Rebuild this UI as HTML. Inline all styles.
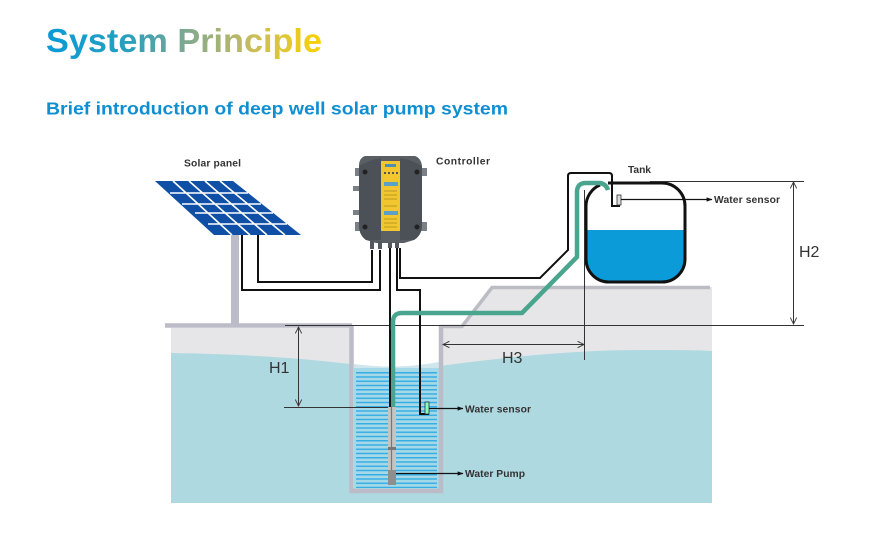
<!DOCTYPE html>
<html><head><meta charset="utf-8"><style>
html,body{margin:0;padding:0;background:#fff;width:873px;height:555px;overflow:hidden}
svg{display:block;filter:blur(.35px)}
text{font-family:"Liberation Sans","DejaVu Sans",sans-serif;font-weight:bold}
</style></head><body>
<svg width="873" height="555" viewBox="0 0 873 555" xmlns="http://www.w3.org/2000/svg">
<defs>
<linearGradient id="tg" gradientUnits="userSpaceOnUse" x1="46" y1="0" x2="322" y2="0">
<stop offset="0" stop-color="#0a9ad8"/><stop offset=".3" stop-color="#27a0bd"/><stop offset=".5" stop-color="#7da891"/><stop offset=".75" stop-color="#c9bd5c"/><stop offset="1" stop-color="#fad200"/>
</linearGradient>
<pattern id="wl" width="8" height="4.25" patternUnits="userSpaceOnUse" y="372">
<rect width="8" height="4.25" fill="#a6d9e8"/><rect width="8" height="1.5" fill="#36aee3"/>
</pattern>
<marker id="o" viewBox="0 0 10 10" refX="9" refY="5" markerWidth="8" markerHeight="8" orient="auto-start-reverse"><path d="M1 1L9 5L1 9" fill="none" stroke="#333" stroke-width="1.1"/></marker>
<marker id="s" viewBox="0 0 10 10" refX="9" refY="5" markerWidth="5" markerHeight="5" orient="auto"><path d="M0 1.5L10 5L0 8.5Z" fill="#111"/></marker>
</defs>
<text x="46" y="52" font-size="33" fill="url(#tg)" textLength="276" lengthAdjust="spacingAndGlyphs">System Principle</text>
<text x="46" y="114.500" font-size="17.500" fill="#0f8fd2" textLength="462" lengthAdjust="spacingAndGlyphs">Brief introduction of deep well solar pump system</text>

<!-- ground -->
<path d="M171 328H352V503H171Z" fill="#e6e6e8"/>
<path d="M440 327H463L492 287H712V503H440Z" fill="#e6e6e8"/>
<path d="M171 353C240 354 300 358 350 364V503H171Z" fill="#aed9e1"/>
<path d="M440 366C500 358 570 350 640 350C670 350 695 350 712 351V503H440Z" fill="#aed9e1"/>
<rect x="171" y="490" width="541" height="13" fill="#aed9e1"/>
<rect x="354" y="328" width="85" height="37" fill="#fff"/>
<path d="M354 364Q396 370 439 362V372H354Z" fill="#cfe7ec"/>
<rect x="354" y="368" width="85" height="121" fill="#a6d9e8"/>
<rect x="356" y="372" width="81" height="116" fill="url(#wl)"/>
<path d="M165 325.500H352M351.500 325V491H441V325" fill="none" stroke="#bcbcc8" stroke-width="4.500"/>
<path d="M441 326.500H462L492 287.500H710" fill="none" stroke="#bcbcc4" stroke-width="3.500"/>
<rect x="231" y="235" width="8" height="89" fill="#bcbcc8"/>

<!-- solar panel -->
<path d="M155 181H233L301 235H214Z" fill="#0f4fa6"/>
<path d="M170 193H248M182 204H261M195 213H273M208 224H287M173 181L232 235M189 181L250 235M205 181L267 235M220 181L285 235" stroke="#fff" stroke-width="1.600" fill="none"/>

<!-- tank -->
<path d="M586 230H686V260A23 23 0 0 1 663 283H609A23 23 0 0 1 586 260Z" fill="#0b9bd9"/>
<path d="M608 183H662A23 23 0 0 1 685 206V259A23 23 0 0 1 662 282H609A23 23 0 0 1 586 259V206A23 23 0 0 1 600 185" fill="none" stroke="#111" stroke-width="3"/>

<!-- thin lines -->
<g stroke="#333" stroke-width="1" fill="none">
<path d="M285 325.500H804M650 181.500H804M284 407.500H390"/>
<path d="M584.500 190V360"/>
<path d="M298.500 327V406" marker-start="url(#o)" marker-end="url(#o)"/>
<path d="M793.500 182V324" marker-start="url(#o)" marker-end="url(#o)"/>
<path d="M443 344.500H584" marker-start="url(#o)" marker-end="url(#o)"/>
</g>

<!-- wires -->
<g fill="none" stroke="#111" stroke-width="2">
<path d="M258 235V282H372V250"/>
<path d="M242 235V290H380V250"/>
<path d="M390 248V408"/>
<path d="M397 248V290H420V414H429"/>
<path d="M400 248V278H540L568 250V176Q568 173 571 173H609Q612 173 612 176V206H620"/>
</g>
<!-- pipe -->
<path d="M393 407V322Q393 313 402 313H522L577 257V192Q577 183 586 183H600Q606 184 608 190" fill="none" stroke="#4aa58e" stroke-width="4.500"/>
<path d="M390 330V407" stroke="#111" stroke-width="2"/>

<!-- sensors -->
<rect x="617" y="195" width="4" height="10" fill="#ddd" stroke="#333" stroke-width=".8"/>
<rect x="425" y="402" width="4" height="12" fill="#8fb" stroke="#234" stroke-width=".8"/>
<path d="M621 199.500H712" stroke="#111" stroke-width="1.200" marker-end="url(#s)"/>
<path d="M429 408.500H463" stroke="#111" stroke-width="1.200" marker-end="url(#s)"/>
<path d="M396 473.500H463" stroke="#111" stroke-width="1.200" marker-end="url(#s)"/>

<!-- pump -->
<rect x="388" y="407" width="8" height="78" fill="#c4c4c2"/>
<path d="M391.500 407V485" stroke="#777" stroke-width="1.200"/>
<rect x="388" y="447" width="8" height="3" fill="#777"/>
<rect x="388" y="470" width="8" height="15" fill="#8e8e8c"/>

<!-- controller -->
<g>
<path d="M355 168h6v8h-6zM355 222h6v9h-6zM421 168h6v8h-6zM421 222h6v9h-6zM353 186h7v5h-7zM353 210h7v5h-7z" fill="#7b8087"/>
<path d="M365 156H415Q421 158 422 166V225Q422 235 414 240L404 243H376L366 240Q359 235 359 225V166Q359 158 365 156Z" fill="#5a5f66"/>
<path d="M359 166Q370 160 381 158V240L366 240Q359 235 359 225ZM400 158Q412 160 422 166V225Q422 235 414 240H400Z" fill="#4c5158"/>
<rect x="381" y="161" width="19" height="70" fill="#f1c62f"/>
<rect x="385" y="164" width="11" height="3" fill="#4f8fb0"/>
<path d="M384 172h2v2h-2zM388 172h2v2h-2zM392 172h2v2h-2zM396 172h2v2h-2z" fill="#555"/>
<rect x="384" y="182" width="14" height="4" fill="#5aa0c8"/>
<rect x="384" y="211" width="14" height="4" fill="#5aa0c8"/>
<path d="M384 191H397M384 195H397M384 199H397M384 206H397M384 219H397M384 223H397M384 227H397" stroke="#a88a20" stroke-width=".8"/>
<circle cx="365" cy="172" r="2.500" fill="#222"/><circle cx="417" cy="172" r="2.500" fill="#222"/>
<circle cx="365" cy="227" r="2.500" fill="#222"/><circle cx="417" cy="227" r="2.500" fill="#222"/>
<path d="M372 240v9M380 241v8M390 242v6M397 242v6" stroke="#55595f" stroke-width="4"/>
</g>

<!-- labels -->
<g fill="#333" font-size="10.300">
<text x="184" y="166.500" textLength="57">Solar panel</text>
<text x="436" y="164.500" textLength="54">Controller</text>
<text x="628" y="173" textLength="23">Tank</text>
<text x="714" y="203" textLength="66">Water sensor</text>
<text x="465" y="412.500" textLength="66">Water sensor</text>
<text x="465" y="477" textLength="60">Water Pump</text>
</g>
<g fill="#333" font-size="16">
<text x="269" y="373" style="font-weight:normal">H1</text>
<text x="799" y="257" style="font-weight:normal">H2</text>
<text x="502" y="363" style="font-weight:normal">H3</text>
</g>
</svg>
</body></html>
